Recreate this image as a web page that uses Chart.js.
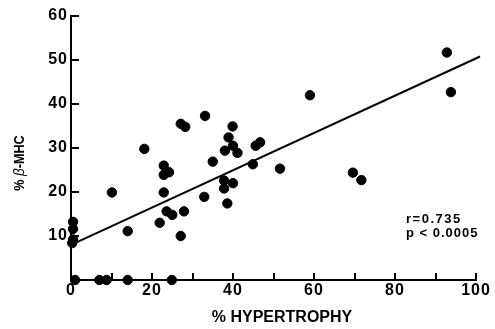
<!DOCTYPE html>
<html>
<head>
<meta charset="utf-8">
<script src="https://cdn.jsdelivr.net/npm/chart.js@4.4.0/dist/chart.umd.min.js"></script>
<style>
  html, body { margin: 0; padding: 0; background: #fff; }
  #wrap { width: 495px; height: 329px; }
</style>
</head>
<body>
<div id="wrap"><canvas id="c" width="495" height="329"></canvas></div>
<script>
// % hypertrophy vs % beta-MHC, one entry per heart
const hypertrophy = [0.5, 0.5, 0.5, 0.3, 1, 7, 8.8, 14, 24.9, 10.1, 14.0, 18.1, 21.9, 22.9, 22.9, 24.2,
  22.9, 23.6, 25.0, 27.9, 27.1, 27.1, 28.2, 33.1, 32.9, 35.0, 37.8, 37.8, 38.6, 40.0, 38.0, 38.9,
  39.9, 40.0, 41.1, 44.9, 45.6, 46.7, 51.6, 59.0, 69.6, 71.7, 92.8, 93.8];
const betaMHC = [13.2, 11.6, 9.2, 8.4, 0, 0, 0, 0, 0, 19.9, 11.1, 29.8, 13.0, 26.0, 23.9, 24.5,
  19.9, 15.6, 14.8, 15.6, 10.0, 35.5, 34.8, 37.3, 18.9, 26.9, 22.6, 20.8, 17.4, 22.0, 29.4, 32.4,
  34.9, 30.5, 28.9, 26.3, 30.5, 31.3, 25.3, 42.0, 24.4, 22.7, 51.7, 42.7];

// regression line end points
const fitX = [0, 101];
const fitY = [8.0, 50.8];

const xTicks = [0, 10, 20, 30, 40, 50, 60, 70, 80, 90, 100];
const xLabels = [0, 20, 40, 60, 80, 100];
const yTicks = [0, 10, 20, 30, 40, 50, 60];
const yLabels = [10, 20, 30, 40, 50, 60];
const statLines = ['r=0.735', 'p < 0.0005'];

const points = hypertrophy.map((x, i) => ({x: x, y: betaMHC[i]}));
const fitLine = fitX.map((x, i) => ({x: x, y: fitY[i]}));

const FONT = '"Liberation Sans", Arial, sans-serif';

// tick marks point into the plot, plus titles and stats text
const decor = {
  id: 'decor',
  beforeDraw(chart) {
    chart.ctx.letterSpacing = '1px';
  },
  afterDraw(chart) {
    const ctx = chart.ctx;
    const xs = chart.scales.x, ys = chart.scales.y;
    ctx.save();
    ctx.letterSpacing = '0px';
    ctx.strokeStyle = '#000';
    ctx.lineWidth = 2;
    ctx.beginPath();
    xTicks.forEach(v => {
      const px = Math.round(xs.getPixelForValue(v));
      ctx.moveTo(px, ys.bottom);
      ctx.lineTo(px, ys.bottom - 7);
    });
    yTicks.forEach(v => {
      const py = Math.round(ys.getPixelForValue(v));
      ctx.moveTo(xs.left, py);
      ctx.lineTo(xs.left + 8, py);
    });
    ctx.stroke();

    ctx.fillStyle = '#000';
    ctx.textBaseline = 'middle';
    ctx.textAlign = 'center';
    ctx.font = 'bold 16px ' + FONT;
    ctx.fillText('% HYPERTROPHY', 282, 318);

    // y title, rotated
    ctx.translate(20, 163);
    ctx.rotate(-Math.PI / 2);
    ctx.scale(0.9, 1);
    ctx.textAlign = 'left';
    const f1 = 'bold 14px ' + FONT;
    const f2 = 'italic 15px ' + FONT;
    const parts = [['% ', f1], ['\u03B2', f2], ['-MHC', f1]];
    let total = 0;
    parts.forEach(p => { ctx.font = p[1]; total += ctx.measureText(p[0]).width; });
    let cx = -total / 2;
    parts.forEach(p => { ctx.font = p[1]; ctx.fillText(p[0], cx, 0); cx += ctx.measureText(p[0]).width; });
    ctx.restore();

    ctx.save();
    ctx.fillStyle = '#000';
    ctx.font = 'bold 13px ' + FONT;
    ctx.textBaseline = 'alphabetic';
    ctx.textAlign = 'left';
    ctx.letterSpacing = '1.5px';
    ctx.fillText(statLines[0], 406, 223);
    ctx.letterSpacing = '1px';
    ctx.fillText(statLines[1], 406, 237);
    ctx.restore();
  }
};

new Chart(document.getElementById('c'), {
  type: 'scatter',
  data: {
    datasets: [
      {
        data: points,
        backgroundColor: '#000',
        borderColor: '#000',
        pointRadius: 4.7,
        pointHoverRadius: 4.7,
        clip: false
      },
      {
        data: fitLine,
        showLine: true,
        borderColor: '#000',
        borderWidth: 2,
        pointRadius: 0,
        clip: false
      }
    ]
  },
  options: {
    responsive: false,
    animation: false,
    events: [],
    layout: { padding: { top: 16, right: 19, left: 0, bottom: 0 } },
    plugins: { legend: { display: false }, tooltip: { enabled: false } },
    scales: {
      x: {
        type: 'linear',
        min: 0, max: 100,
        afterFit: s => { s.height = 49; },
        afterBuildTicks: s => { s.ticks = xLabels.map(v => ({value: v})); },
        grid: { display: false, drawTicks: false },
        border: { display: true, color: '#000', width: 2 },
        ticks: { color: '#000', padding: 1, font: { family: FONT, size: 16, weight: 'bold' } }
      },
      y: {
        type: 'linear',
        min: 0, max: 60,
        afterFit: s => { s.width = 71; },
        afterBuildTicks: s => { s.ticks = yLabels.map(v => ({value: v})); },
        grid: { display: false, drawTicks: false },
        border: { display: true, color: '#000', width: 2 },
        ticks: { color: '#000', padding: 3, font: { family: FONT, size: 16, weight: 'bold' } }
      }
    }
  },
  plugins: [decor]
});
</script>
</body>
</html>
